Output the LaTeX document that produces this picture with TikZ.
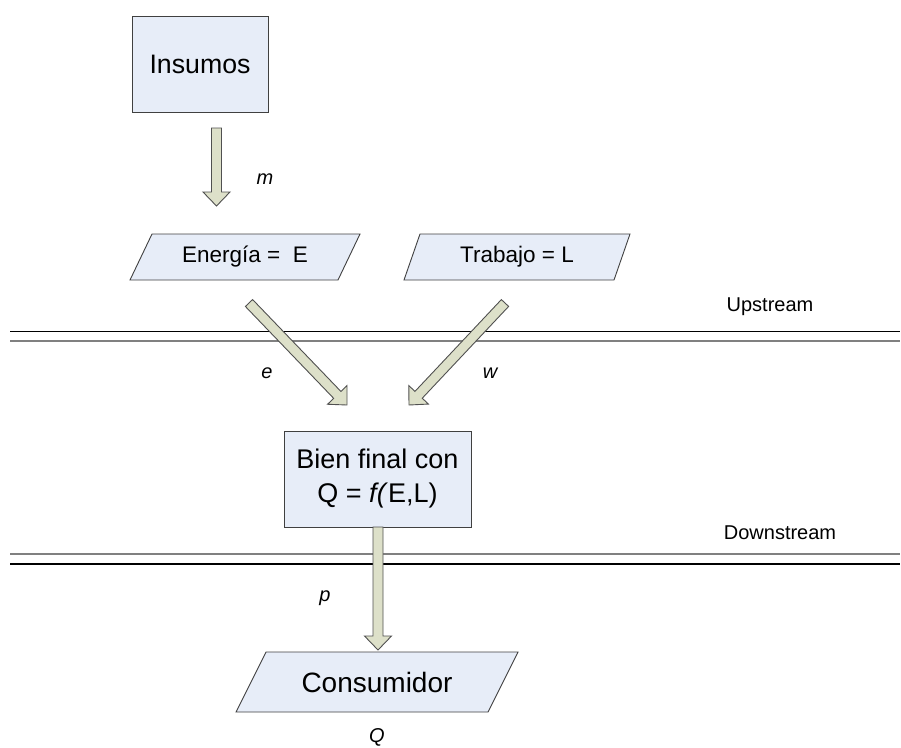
\documentclass[tikz,border=0pt]{standalone}
\usepackage{fontspec}
\setmainfont{Liberation Sans}
\usetikzlibrary{calc}

\definecolor{boxfill}{RGB}{231,237,248}
\definecolor{boxline}{RGB}{64,64,64}
\definecolor{arrfill}{RGB}{221,224,201}
\definecolor{arrline}{RGB}{80,80,80}
\definecolor{midgray}{RGB}{128,128,128}

% block arrow from tail #1 to tip #2
\newcommand\blkarrow[2]{%
  \path ($(#2)!14pt!(#1)$) coordinate (hb);
  \draw[blockarrow]
    ($(#1)!5pt!90:(#2)$) -- ($(hb)!5pt!90:(#2)$) -- ($(hb)!13.5pt!90:(#2)$)
    -- (#2) --
    ($(hb)!13.5pt!-90:(#2)$) -- ($(hb)!5pt!-90:(#2)$) -- ($(#1)!5pt!-90:(#2)$) -- cycle;
}

\tikzset{
  rectbox/.style={draw=boxline, fill=boxfill, line width=0.9pt, inner sep=0pt},
  parabox/.style={draw=boxline, fill=boxfill, line width=0.9pt},
  blockarrow/.style={draw=arrline, fill=arrfill, line width=0.9pt, line join=miter},
  lbl/.style={inner sep=0pt, font=\fontsize{20}{24}\selectfont\itshape},
  zone/.style={inner sep=0pt, font=\fontsize{20}{24}\selectfont},
  darkline/.style={draw=black, line width=1.5pt},
  greyline/.style={draw=midgray, line width=1.8pt},
}

\begin{document}
\begin{tikzpicture}[x=1pt, y=-1pt]
\useasboundingbox (0,0) rectangle (901,747);

% zone separators
\draw[darkline] (10,331.5) -- (900,331.5);
\draw[greyline] (10,341) -- (900,341);
\draw[greyline] (10,554) -- (900,554);
\draw[darkline] (10,564) -- (900,564);
\node[zone] (up) at (770,307) {Upstream};
\node[zone] (down) at (780,533) {Downstream};

% inputs
\node[rectbox, minimum width=136pt, minimum height=96pt,
      font=\fontsize{26.7}{32}\selectfont] (ins) at (200,64) {Insumos};

\coordinate (eneC) at (245,257);
\draw[parabox] ($(eneC)+(-93,-23)$) -- ($(eneC)+(115,-23)$)
  -- ($(eneC)+(93,23)$) -- ($(eneC)+(-115,23)$) -- cycle;
\node[inner sep=0pt, font=\fontsize{22.5}{27}\selectfont] (ene) at (eneC) {Energía =\ \ E};

\coordinate (traC) at (517,257);
\draw[parabox] ($(traC)+(-97,-23)$) -- ($(traC)+(113,-23)$)
  -- ($(traC)+(97,23)$) -- ($(traC)+(-113,23)$) -- cycle;
\node[inner sep=0pt, font=\fontsize{22.5}{27}\selectfont] (tra) at (traC) {Trabajo = L};

% final good
\node[rectbox, minimum width=187pt, minimum height=96pt, align=center,
      font=\fontsize{27}{34}\selectfont] (bien) at (377.5,479)
      {Bien final con\\Q = \textit{f(}E,L)};

% consumer
\coordinate (consC) at (377,682);
\draw[parabox] ($(consC)+(-111,-30)$) -- ($(consC)+(141,-30)$)
  -- ($(consC)+(111,30)$) -- ($(consC)+(-141,30)$) -- cycle;
\node[inner sep=0pt, font=\fontsize{28}{33}\selectfont] (cons) at (consC) {Consumidor};

% flows
\coordinate (mT) at (216.5,128);
\coordinate (mH) at (216.5,206);
\blkarrow{mT}{mH}

\coordinate (eT) at (249,303);
\coordinate (eH) at (347,405);
\blkarrow{eT}{eH}

\coordinate (wT) at (505,303);
\coordinate (wH) at (409,405);
\blkarrow{wT}{wH}

\coordinate (pT) at (378,527);
\coordinate (pH) at (378,650);
\blkarrow{pT}{pH}

% flow labels
\node[lbl] (m) at (265,179) {m};
\node[lbl] (e) at (267,373) {e};
\node[lbl] (w) at (490,373) {w};
\node[lbl] (p) at (325,598) {p};
\node[lbl] (q) at (377,737) {Q};
\end{tikzpicture}
\end{document}
